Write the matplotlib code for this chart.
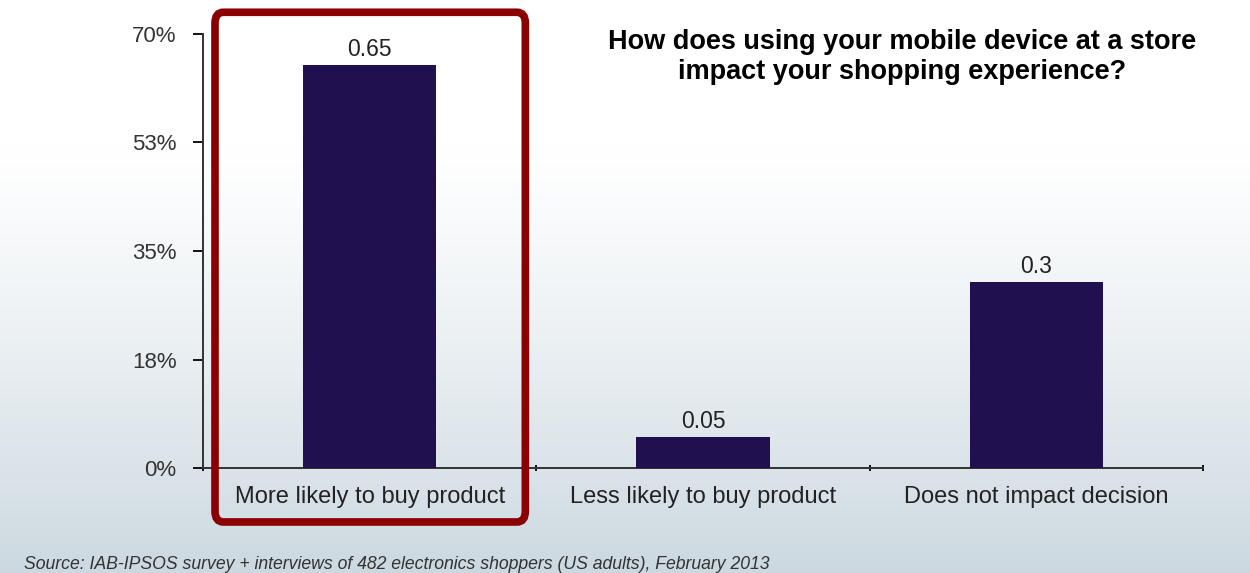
import numpy as np
import matplotlib.pyplot as plt
from matplotlib.patches import FancyBboxPatch

plt.rcParams['font.family'] = ['Liberation Sans', 'DejaVu Sans']

# Survey data
categories = ["More likely to buy product", "Less likely to buy product", "Does not impact decision"]
values = [0.65, 0.05, 0.30]
value_labels = ["0.65", "0.05", "0.3"]
yticks = [0, 0.175, 0.35, 0.525, 0.70]
ytick_labels = ["0%", "18%", "35%", "53%", "70%"]

fig = plt.figure(figsize=(12.5, 5.73), dpi=100)

# gradient background: white at top, pale blue-grey at bottom
bg = fig.add_axes([0, 0, 1, 1], zorder=-10)
grad = np.linspace(0, 1, 256)[:, None]
top = np.array([1.0, 1.0, 1.0])
bottom = np.array([0.80, 0.85, 0.88])
w = np.clip((grad - 0.25) / 0.75, 0, 1) ** 1.2
img = (top * (1 - w) + bottom * w)[:, None, :].repeat(2, axis=1)
bg.imshow(img, aspect='auto', extent=[0, 1, 0, 1], origin='upper')
bg.axis('off')

ax = fig.add_axes([0.1624, 0.1832, 0.8, 0.7575])
ax.patch.set_alpha(0)
x = np.arange(len(categories))
bars = ax.bar(x, values, width=0.4, color='#20104F', zorder=3)
for xi, v, lab in zip(x, values, value_labels):
    ax.text(xi, v + 0.007, lab, ha='center', va='bottom', fontsize=16.5, color='#222222')

ax.set_xlim(-0.5, len(categories) - 0.5)
ax.set_ylim(0, 0.70)
ax.set_yticks(yticks)
ax.set_yticklabels(ytick_labels, fontsize=16, color='#333333')
ax.set_xticks(x)
ax.set_xticklabels(categories, fontsize=17, color='#222222')
ax.tick_params(axis='x', length=0, pad=13)
ax.tick_params(axis='y', length=7, width=1.3, pad=12)
# category separator ticks on the x axis
ax.set_xticks(np.arange(len(categories) + 1) - 0.5, minor=True)
ax.tick_params(axis='x', which='minor', length=5, width=1.3, direction='inout')
for side in ['top', 'right']:
    ax.spines[side].set_visible(False)
for side in ['left', 'bottom']:
    ax.spines[side].set_linewidth(1.4)
    ax.spines[side].set_color('#333333')

# highlight box around the first category
box = FancyBboxPatch((-0.464, -0.087), 0.931, 0.822,
                     boxstyle="round,pad=0,rounding_size=0.025",
                     transform=ax.transData, clip_on=False,
                     facecolor='none', edgecolor='#8B0000', linewidth=5.5, zorder=5,
                     mutation_aspect=0.7)
ax.add_patch(box)

fig.text(0.722, 0.949, "How does using your mobile device at a store\nimpact your shopping experience?",
         ha='center', va='top', fontsize=19.5, fontweight='bold', linespacing=1.2)
fig.text(0.019, 0.0, "Source: IAB-IPSOS survey + interviews of 482 electronics shoppers (US adults), February 2013",
         ha='left', va='bottom', fontsize=12.7, style='italic', color='#333333')

fig.savefig("out.png", dpi=100)
